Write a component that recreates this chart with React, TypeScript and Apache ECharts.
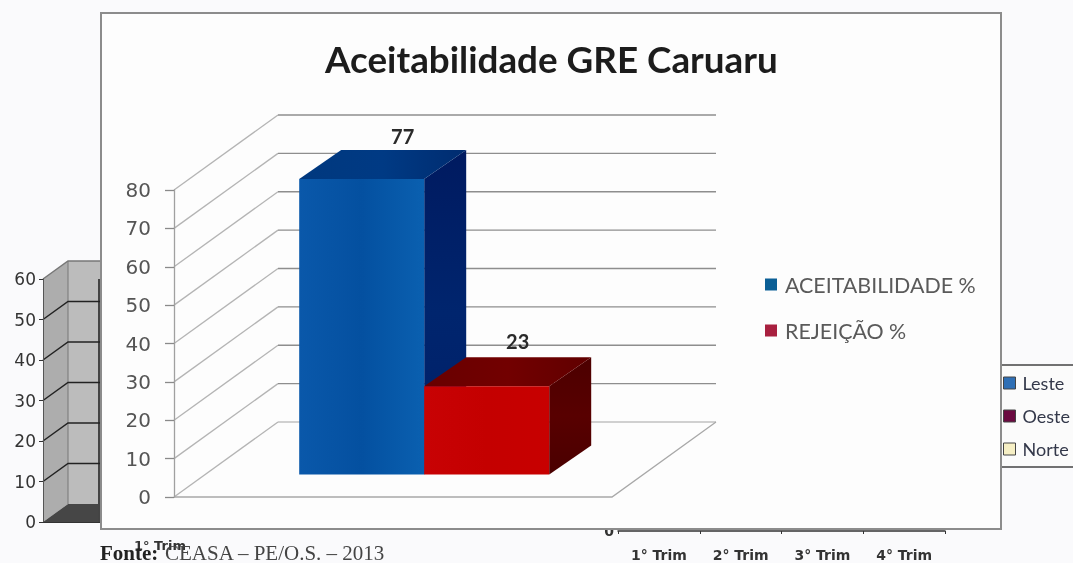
import React, { useEffect, useRef } from "react";
import * as echarts from "echarts";

const titleText = "Aceitabilidade GRE Caruaru";
const sourceLabel = "Fonte:";
const sourceText = "CEASA – PE/O.S. – 2013";
const categories = ["GRE Caruaru"];
const aceitabilidade = [77];
const rejeicao = [23];
const yTicks = [0, 10, 20, 30, 40, 50, 60, 70, 80];
const backTicks = [0, 10, 20, 30, 40, 50, 60];
const backLeftCategories = ["1° Trim"];
const backRightCategories = ["1° Trim", "2° Trim", "3° Trim", "4° Trim"];
const mainSeriesNames = ["ACEITABILIDADE %", "REJEIÇÃO %"];
const backSeriesNames = ["Leste", "Oeste", "Norte"];

const DEPTH_X = 104;
const DEPTH_Y = 75;
const BAR_W = 125;
const BAR_FRONT = 0.3;
const BAR_DX = 42;
const BAR_DY = 29;

const grad = (a: string, b: string, c: string, vertical = false) =>
  new echarts.graphic.LinearGradient(0, 0, vertical ? 0 : 1, vertical ? 1 : 0, [
    { offset: 0, color: a },
    { offset: 0.5, color: b },
    { offset: 1, color: c },
  ]);

const wallGrid = (params: any, api: any) => {
  const cs = params.coordSys;
  const v = api.value(1);
  const p = api.coord([0, v]);
  const xL = cs.x;
  const xR = cs.x + cs.width;
  const y = p[1];
  const lineStyle = { stroke: "#9c9c9c", lineWidth: 1.3, fill: "none" };
  const children: any[] = [
    { type: "polyline", shape: { points: [[xL, y], [xL + DEPTH_X, y - DEPTH_Y]] }, style: { ...lineStyle, stroke: "#b4b4b4" } },
    { type: "polyline", shape: { points: [[xL + DEPTH_X, y - DEPTH_Y], [xR + DEPTH_X, y - DEPTH_Y]] }, style: { ...lineStyle, stroke: v === 0 ? "#c0c0c0" : "#8e8e8e" } },
  ];
  if (v === 0) {
    children.push({
      type: "polyline",
      shape: { points: [[xL, y], [xR, y], [xR + DEPTH_X, y - DEPTH_Y]] },
      style: { ...lineStyle, stroke: "#a8a8a8" },
    });
  }
  return { type: "group", children };
};

const bar3d = (index: number, colors: any, labelDx: number, labelDy: number) => (params: any, api: any) => {
  const v = api.value(1);
  const c = api.coord([api.value(0), v]);
  const base = api.coord([api.value(0), 0]);
  const dx = DEPTH_X * BAR_FRONT;
  const dy = DEPTH_Y * BAR_FRONT;
  const x0 = c[0] + dx + (index === 0 ? -BAR_W : 0);
  const x1 = x0 + BAR_W;
  const yT = c[1] - dy;
  const yB = base[1] - dy;
  return {
    type: "group",
    children: [
      { type: "polygon", shape: { points: [[x1, yT], [x1 + BAR_DX, yT - BAR_DY], [x1 + BAR_DX, yB - BAR_DY], [x1, yB]] }, style: { fill: colors.side } },
      { type: "polygon", shape: { points: [[x0, yT], [x0 + BAR_DX, yT - BAR_DY], [x1 + BAR_DX, yT - BAR_DY], [x1, yT]] }, style: { fill: colors.top } },
      { type: "rect", shape: { x: x0, y: yT, width: BAR_W, height: yB - yT }, style: { fill: colors.front } },
      {
        type: "text",
        x: (x0 + x1) / 2 + labelDx,
        y: yT - labelDy,
        style: { text: String(v), fill: "#2a2a2a", font: "bold 20px Lato", align: "center", verticalAlign: "middle" },
      },
    ],
  };
};

const backWall = (params: any, api: any) => {
  const cs = params.coordSys;
  const v = api.value(1);
  const y = api.coord([0, v])[1];
  const xL = cs.x;
  const dX = 25;
  const dY = 18;
  const xR = cs.x + cs.width;
  const children: any[] = [];
  if (v === 0) {
    const top = api.coord([0, 60])[1];
    children.push(
      { type: "polygon", shape: { points: [[xL, y], [xL + dX, y - dY], [xL + dX, top - dY], [xL, top]] }, style: { fill: "#adadad" } },
      { type: "rect", shape: { x: xL + dX, y: top - dY, width: xR - xL - dX, height: y - top }, style: { fill: "#bcbcbc" } },
      { type: "polygon", shape: { points: [[xL, y], [xL + dX, y - dY], [xR, y - dY], [xR, y]] }, style: { fill: "#464646" } },
      { type: "rect", shape: { x: xL + 55, y: top, width: 3, height: y - top }, style: { fill: "#444444" } },
      { type: "polyline", shape: { points: [[xL + dX, top - dY], [xL + dX, y - dY]] }, style: { stroke: "#777777", lineWidth: 1, fill: "none" } },
    );
  } else {
    children.push({
      type: "polyline",
      shape: { points: [[xL, y], [xL + dX, y - dY], [xR, y - dY]] },
      style: { stroke: v === 60 ? "#777777" : "#222222", lineWidth: 1.5, fill: "none" },
    });
  }
  return { type: "group", children };
};

const emptyRender = () => ({ type: "group", children: [] });

export default function App() {
  const ref = useRef<HTMLDivElement>(null);
  useEffect(() => {
    document.body.style.margin = "0";
    const chart = echarts.init(ref.current!, undefined, { renderer: "svg" });
    chart.setOption({
      animation: false,
      backgroundColor: "#fafafc",
      textStyle: { fontFamily: "Lato" },
      title: {
        text: titleText,
        left: 325,
        top: 40,
        padding: 0,
        textStyle: { fontFamily: "Lato", fontWeight: "bold", fontSize: 36.8, color: "#1c1c1c" },
      },
      legend: [
        {
          data: mainSeriesNames,
          orient: "vertical",
          left: 765,
          top: 274,
          padding: 0,
          itemWidth: 12,
          itemHeight: 12,
          itemGap: 25,
          icon: "rect",
          selectedMode: false,
          textStyle: { fontFamily: "Lato", fontSize: 21.4, color: "#5a5a5a", padding: [0, 0, 0, 3] },
        },
        {
          data: backSeriesNames,
          orient: "vertical",
          left: 1003,
          top: 374,
          padding: 0,
          itemWidth: 12,
          itemHeight: 12,
          itemGap: 15,
          icon: "rect",
          selectedMode: false,
          itemStyle: { borderColor: "#444444", borderWidth: 1 },
          textStyle: { fontFamily: "Lato", fontSize: 18, color: "#33384a", padding: [0, 0, 0, 2] },
        },
      ],
      grid: [
        { left: 174, top: 190, width: 438, height: 307 },
        { left: 43, top: 279, width: 234, height: 243 },
        { left: 618, top: 400, width: 327, height: 131 },
      ],
      xAxis: [
        { gridIndex: 0, type: "category", data: categories, show: false, z: 5 },
        {
          gridIndex: 1,
          type: "category",
          data: backLeftCategories,
          z: 0,
          axisLine: { lineStyle: { color: "#333333" } },
          axisTick: { show: false },
          axisLabel: { margin: 17, fontFamily: "'DejaVu Sans'", fontWeight: "bold", fontSize: 13, color: "#333333" },
        },
        {
          gridIndex: 2,
          type: "category",
          data: backRightCategories,
          z: 0,
          axisLine: { lineStyle: { color: "#333333", width: 1.5 } },
          axisTick: { show: true, length: 3, lineStyle: { color: "#333333" } },
          axisLabel: { interval: 0, margin: 17, fontFamily: "'DejaVu Sans'", fontWeight: "bold", fontSize: 14, color: "#333333" },
        },
      ],
      yAxis: [
        {
          gridIndex: 0,
          type: "value",
          min: 0,
          max: 80,
          interval: 10,
          z: 5,
          splitLine: { show: false },
          axisLine: { show: true, lineStyle: { color: "#a0a0a0", width: 1.3 } },
          axisTick: { show: true, length: 9, lineStyle: { color: "#8a8a8a", width: 1.3 } },
          axisLabel: { margin: 23, fontFamily: "'DejaVu Sans'", fontSize: 20, color: "#555555" },
        },
        {
          gridIndex: 1,
          type: "value",
          min: 0,
          max: 60,
          interval: 10,
          z: 0,
          splitLine: { show: false },
          axisLine: { show: true, lineStyle: { color: "#555555" } },
          axisTick: { show: true, length: 4, lineStyle: { color: "#333333" } },
          axisLabel: { margin: 7, fontFamily: "'DejaVu Sans'", fontSize: 17, color: "#333333" },
        },
        {
          gridIndex: 2,
          type: "value",
          min: 0,
          max: 60,
          interval: 60,
          z: 0,
          splitLine: { show: false },
          axisLine: { show: false },
          axisTick: { show: false },
          axisLabel: { margin: 4, fontFamily: "'DejaVu Sans'", fontWeight: "bold", fontSize: 14, color: "#333333", formatter: (v: number) => (v === 0 ? "0" : "") },
        },
      ],
      graphic: [
        { type: "rect", z: 1, shape: { x: 101, y: 13, width: 900, height: 516 }, style: { fill: "#fdfdfd", stroke: "#8c8c8c", lineWidth: 2 } },
        { type: "rect", z: 0, shape: { x: 1001, y: 365, width: 90, height: 102 }, style: { fill: "#fbfbfb", stroke: "#444444", lineWidth: 1.5 } },
        { type: "text", z: 3, x: 100, y: 542, style: { text: sourceLabel, font: "bold 21px 'Liberation Serif'", fill: "#222222" } },
        { type: "text", z: 3, x: 165, y: 542, style: { text: sourceText, font: "21px 'Liberation Serif'", fill: "#444444" } },
      ],
      series: [
        {
          type: "custom",
          name: "backWalls",
          xAxisIndex: 1,
          yAxisIndex: 1,
          z: 0,
          silent: true,
          clip: false,
          renderItem: backWall,
          data: backTicks.map((v) => [0, v]),
        },
        ...backSeriesNames.map((name, i) => ({
          type: "custom",
          name,
          xAxisIndex: 2,
          yAxisIndex: 2,
          z: 0,
          silent: true,
          itemStyle: { color: ["#2f6fb5", "#6a0a40", "#f6efc4"][i] },
          renderItem: emptyRender,
          data: [],
        })),
        {
          type: "custom",
          name: "walls",
          xAxisIndex: 0,
          yAxisIndex: 0,
          z: 4,
          silent: true,
          clip: false,
          renderItem: wallGrid,
          data: yTicks.map((v) => [0, v]),
        },
        {
          type: "custom",
          name: mainSeriesNames[0],
          xAxisIndex: 0,
          yAxisIndex: 0,
          z: 6,
          silent: true,
          clip: false,
          itemStyle: { color: "#0b5f96" },
          renderItem: bar3d(
            0,
            {
              front: grad("#0a58aa", "#0450a0", "#0a60b0"),
              top: grad("#00387e", "#003a84", "#002c70"),
              side: grad("#001a60", "#00256e", "#001f68", true),
            },
            41,
            43
          ),
          data: aceitabilidade.map((v, i) => [i, v]),
        },
        {
          type: "custom",
          name: mainSeriesNames[1],
          xAxisIndex: 0,
          yAxisIndex: 0,
          z: 7,
          silent: true,
          clip: false,
          itemStyle: { color: "#a8203f" },
          renderItem: bar3d(
            1,
            {
              front: grad("#c80204", "#c40000", "#c80000"),
              top: grad("#680000", "#720000", "#600000"),
              side: grad("#4c0000", "#580000", "#4a0000", true),
            },
            31,
            45
          ),
          data: rejeicao.map((v, i) => [i, v]),
        },
      ],
    });
    return () => chart.dispose();
  }, []);
  return <div ref={ref} style={{ width: 1073, height: 563, filter: "blur(0.6px)" }} />;
}
